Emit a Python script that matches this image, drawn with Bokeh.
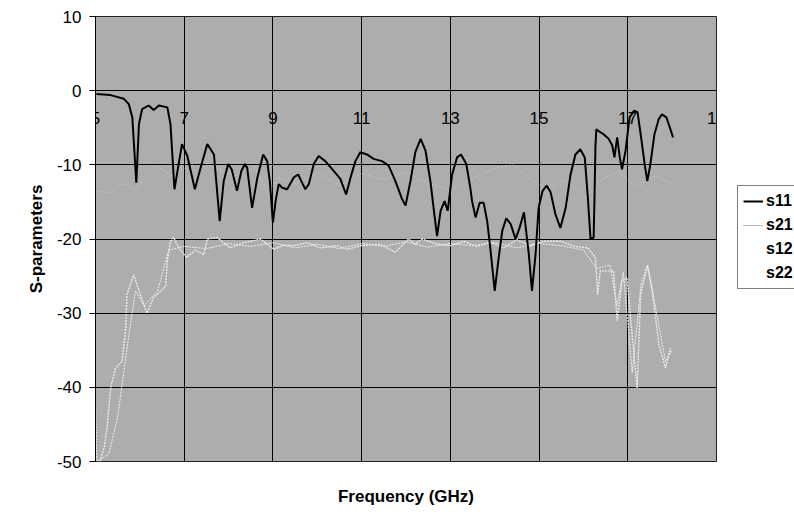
from bokeh.plotting import figure
from bokeh.models import FixedTicker, Legend, LegendItem, Range1d, LinearAxis
from bokeh.layouts import row
from bokeh.embed import file_html
from bokeh.resources import INLINE

# ---- data ----
x_ticks = [5, 7, 9, 11, 13, 15, 17, 19]
y_ticks = [-50, -40, -30, -20, -10, 0, 10]
series_names = ["s11", "s21", "s12", "s22"]

s11_f = [5.02, 5.34, 5.64, 5.75, 5.83, 5.92, 5.98, 6.05, 6.20, 6.31, 6.43, 6.62, 6.69, 6.78,
         6.86, 6.95, 7.07, 7.24, 7.37, 7.52, 7.67, 7.80, 7.89, 7.99, 8.07, 8.19, 8.29, 8.37,
         8.42, 8.53, 8.65, 8.78, 8.87, 8.93, 9.00, 9.06, 9.13, 9.21, 9.32, 9.47, 9.57, 9.64,
         9.73, 9.81, 9.92, 10.03, 10.18, 10.34, 10.52, 10.65, 10.75, 10.86, 10.97, 11.12,
         11.27, 11.46, 11.61, 11.76, 11.91, 11.99, 12.10, 12.21, 12.33, 12.44, 12.55, 12.64,
         12.70, 12.78, 12.87, 12.94, 13.04, 13.15, 13.24, 13.36, 13.45, 13.49, 13.57, 13.66,
         13.75, 13.83, 13.90, 14.00, 14.09, 14.17, 14.26, 14.36, 14.47, 14.56, 14.66, 14.77,
         14.84, 14.92, 14.99, 15.08, 15.17, 15.26, 15.37, 15.48, 15.60, 15.71, 15.82, 15.93,
         16.03, 16.10, 16.16, 16.23, 16.25, 16.27, 16.29, 16.38, 16.46, 16.57, 16.65, 16.70,
         16.76, 16.82, 16.87, 16.95, 17.04, 17.14, 17.22, 17.30, 17.38, 17.44, 17.51, 17.60,
         17.70, 17.77, 17.87, 17.95, 18.02]
s11_v = [-0.45, -0.6, -1.1, -1.8, -3.6, -12.4, -4.5, -2.5, -2.0, -2.6, -2.0, -2.25, -4.5, -13.3,
         -10.4, -7.2, -8.8, -13.3, -10.4, -7.2, -8.6, -17.6, -12.2, -9.9, -10.6, -13.5, -10.8, -9.9,
         -10.4, -15.8, -11.7, -8.6, -9.5, -12.2, -17.8, -14.9, -12.6, -13.1, -13.3, -11.7, -11.3, -12.2,
         -13.3, -12.6, -9.9, -8.8, -9.5, -10.6, -11.9, -14.0, -11.7, -9.5, -8.3, -8.6,
         -9.2, -9.5, -10.1, -12.2, -14.6, -15.5, -12.2, -8.3, -6.5, -8.1, -12.2, -16.7,
         -19.6, -16.2, -14.9, -16.2, -11.3, -9.0, -8.6, -9.9, -13.1, -14.9, -17.1, -15.1,
         -15.1, -17.6, -21.2, -27.0, -22.5, -18.9, -17.2, -18.0, -20.0, -18.5, -16.4, -22.1,
         -27.0, -22.1, -15.8, -13.5, -12.8, -13.7, -16.7, -18.5, -15.8, -11.3, -8.6, -7.9,
         -9.0, -14.4, -20.0, -19.8, -14.4, -7.7, -5.2, -5.6, -5.9, -6.5, -7.4, -9.0,
         -6.3, -9.0, -10.6, -8.1, -3.6, -2.7, -2.9, -6.3, -9.9, -12.2, -9.9, -5.9,
         -3.8, -3.2, -3.6, -5.0, -6.3]

s21_f = [5.10, 5.20, 5.26, 5.34, 5.45, 5.60, 5.68, 5.71, 5.86, 6.01, 6.16, 6.31, 6.58, 6.62,
         6.69, 6.76, 6.88, 7.05, 7.25, 7.44, 7.52, 7.74, 8.04, 8.34, 8.72, 9.02, 9.25, 9.47,
         9.77, 10.07, 10.45, 10.67, 10.97, 11.42, 11.76, 12.06, 12.21, 12.36, 12.70, 13.00,
         13.30, 13.60, 13.90, 14.20, 14.50, 14.80, 15.10, 15.48, 15.80, 16.10, 16.27, 16.32,
         16.38, 16.68, 16.76, 16.87, 16.98, 17.10, 17.21, 17.29, 17.44, 17.55, 17.70, 17.85, 17.96]
s21_v = [-50, -48, -45.5, -40.1, -37.4, -36.5, -32, -27.5, -24.8, -27.5, -30, -27.9, -26.4, -23,
         -20.3, -19.8, -21.2, -22.5, -21.5, -22.1, -20, -19.8, -21.2, -20.5, -20, -21.4, -20.8, -20.9,
         -20.5, -21.2, -20.9, -21.4, -20.9, -20.7, -21.8, -20, -20.7, -20, -20.7, -20.9,
         -20.3, -21.0, -20.4, -21.2, -20.1, -20.9, -20.3, -20.3, -21.0, -21.2, -22.5, -27.5,
         -24.3, -24.3, -31, -25.7, -25.2, -33, -40.1, -27.5, -23.6, -27, -34.2, -37.4, -34.7]

s12_f = [5.00, 5.03, 5.30, 5.50, 5.75, 5.90, 6.10, 6.40, 6.65, 7.0, 7.5, 8.0, 8.5, 9.0, 9.5,
         10.0, 10.5, 11.0, 11.5, 12.0, 12.5, 13.0, 13.5, 14.0, 14.5, 15.0, 15.5, 16.0, 16.3,
         16.6, 16.75, 16.9, 17.1, 17.3, 17.45, 17.65, 17.85, 18.0]
s12_v = [-42, -50, -49, -44, -33, -27, -29, -27, -21.5, -21, -21.3, -20.6, -21, -20.5, -21.2,
         -20.7, -21.3, -20.6, -21, -20.4, -21.1, -20.6, -20.9, -20.5, -21.2, -20.6, -20.9, -21.5, -24,
         -23.5, -29, -24.5, -38, -26, -23.5, -30, -36.5, -35]

s22_f = [5.0, 5.3, 5.6, 5.9, 6.2, 6.4, 6.7, 7.0, 7.37, 7.8, 8.2, 8.6, 8.91, 9.1, 9.5, 10.0,
         10.5, 11.0, 11.5, 12.0, 12.5, 13.0, 13.5, 14.0, 14.43, 14.8, 15.2, 15.6, 16.05, 16.4,
         16.8, 17.2, 17.6, 18.0]
s22_v = [-13.5, -13.8, -12.5, -13.2, -11.2, -10.1, -11.5, -10.5, -9.5, -10.8, -11.5, -10.4, -14, -11.7,
         -12.5, -11, -12.8, -11.2, -12, -11, -12.5, -13.5, -11.8, -10.5, -9.9, -12, -13.2, -12,
         -14.4, -12, -11, -13, -11.5, -12.5]

series = {"s11": (s11_f, s11_v), "s21": (s21_f, s21_v),
          "s12": (s12_f, s12_v), "s22": (s22_f, s22_v)}

FONT = "Liberation Sans"
styles = {
    "s11": dict(line_color="black", line_width=2, line_alpha=1.0, line_dash="solid"),
    "s21": dict(line_color="#ececec", line_width=1.4, line_alpha=1.0, line_dash="2 1"),
    "s12": dict(line_color="white", line_width=1, line_alpha=0.8, line_dash="2 1"),
    "s22": dict(line_color="white", line_width=1, line_alpha=0.3, line_dash="2 2"),
}
legend_styles = dict(styles)
legend_styles["s21"] = dict(line_color="#707070", line_width=1.2, line_alpha=1.0, line_dash="1 1")
legend_styles["s22"] = dict(line_color="white", line_width=1, line_alpha=1.0, line_dash="2 2")

p = figure(width=734, height=514,
           x_range=Range1d(5, 19), y_range=Range1d(-50, 10),
           output_backend="svg", toolbar_location=None,
           min_border_left=95, min_border_right=18, min_border_top=16, min_border_bottom=53,
           background_fill_color="#adadad", border_fill_color="white")

p.outline_line_color = "#222222"
p.outline_line_width = 1

# grid
p.xgrid.ticker = FixedTicker(ticks=x_ticks)
p.ygrid.ticker = FixedTicker(ticks=y_ticks)
for g in (p.xgrid, p.ygrid):
    g.grid_line_color = "black"
    g.grid_line_width = 1
    g.grid_line_alpha = 1.0

# y axis
ya = p.yaxis[0]
ya.ticker = FixedTicker(ticks=y_ticks)
ya.major_label_overrides = {t: str(t) for t in y_ticks}
ya.axis_line_color = "black"
ya.major_tick_out = 6
ya.major_tick_in = 0
ya.minor_tick_line_color = None
ya.major_label_standoff = 8
ya.major_label_text_font = FONT
ya.major_label_text_font_size = "17px"
ya.major_label_text_color = "black"
ya.axis_label = "S-parameters"
ya.axis_label_text_font = FONT
ya.axis_label_text_font_size = "17px"
ya.axis_label_text_font_style = "bold"
ya.axis_label_text_color = "black"
ya.axis_label_standoff = 8

# x axis crossing at y = 0 (Excel style): tick labels only
xa = p.xaxis[0]
xa.ticker = FixedTicker(ticks=x_ticks)
xa.fixed_location = 0
xa.axis_line_color = None
xa.major_tick_out = 0
xa.major_tick_in = 0
xa.minor_tick_line_color = None
xa.major_label_standoff = 21
xa.major_label_text_font = FONT
xa.major_label_text_font_size = "17px"
xa.major_label_text_color = "black"

# x axis title below the plot area
xt = LinearAxis(ticker=FixedTicker(ticks=[]), axis_label="Frequency (GHz)")
xt.axis_line_color = None
xt.major_tick_line_color = None
xt.minor_tick_line_color = None
xt.major_label_text_font_size = "0px"
xt.axis_label_standoff = 25
xt.axis_label_text_font = FONT
xt.axis_label_text_font_size = "17px"
xt.axis_label_text_font_style = "bold"
xt.axis_label_text_color = "black"
p.add_layout(xt, "below")

# series (s22 / s12 white, drawn first)
for name in ["s22", "s12", "s21", "s11"]:
    f, v = series[name]
    p.line(f, v, **styles[name])

# legend panel to the right of the chart (its own frame; the series fall outside its ranges)
pl = figure(width=60, height=514, x_range=Range1d(0, 1), y_range=Range1d(0, 1),
            x_axis_location=None, y_axis_location=None,
            output_backend="svg", toolbar_location=None,
            min_border_left=0, min_border_right=0, min_border_top=0, min_border_bottom=0,
            background_fill_color="white", border_fill_color="white")
pl.grid.visible = False
pl.outline_line_color = None
items = []
for name in series_names:
    f, v = series[name]
    r = pl.line(f, v, **legend_styles[name])
    items.append(LegendItem(label=name, renderers=[r]))
legend = Legend(items=items, location=(3, 172))
legend.border_line_color = "black"
legend.border_line_width = 1
legend.background_fill_color = "white"
legend.background_fill_alpha = 1.0
legend.label_text_font = FONT
legend.label_text_font_size = "16px"
legend.label_text_font_style = "bold"
legend.label_text_color = "black"
legend.glyph_width = 20
legend.glyph_height = 20
legend.label_height = 20
legend.label_standoff = 3
legend.spacing = 4
legend.padding = 5
legend.margin = 0
pl.add_layout(legend)

layout = row(p, pl, spacing=0)
open("out.html", "w").write(file_html(layout, INLINE))
